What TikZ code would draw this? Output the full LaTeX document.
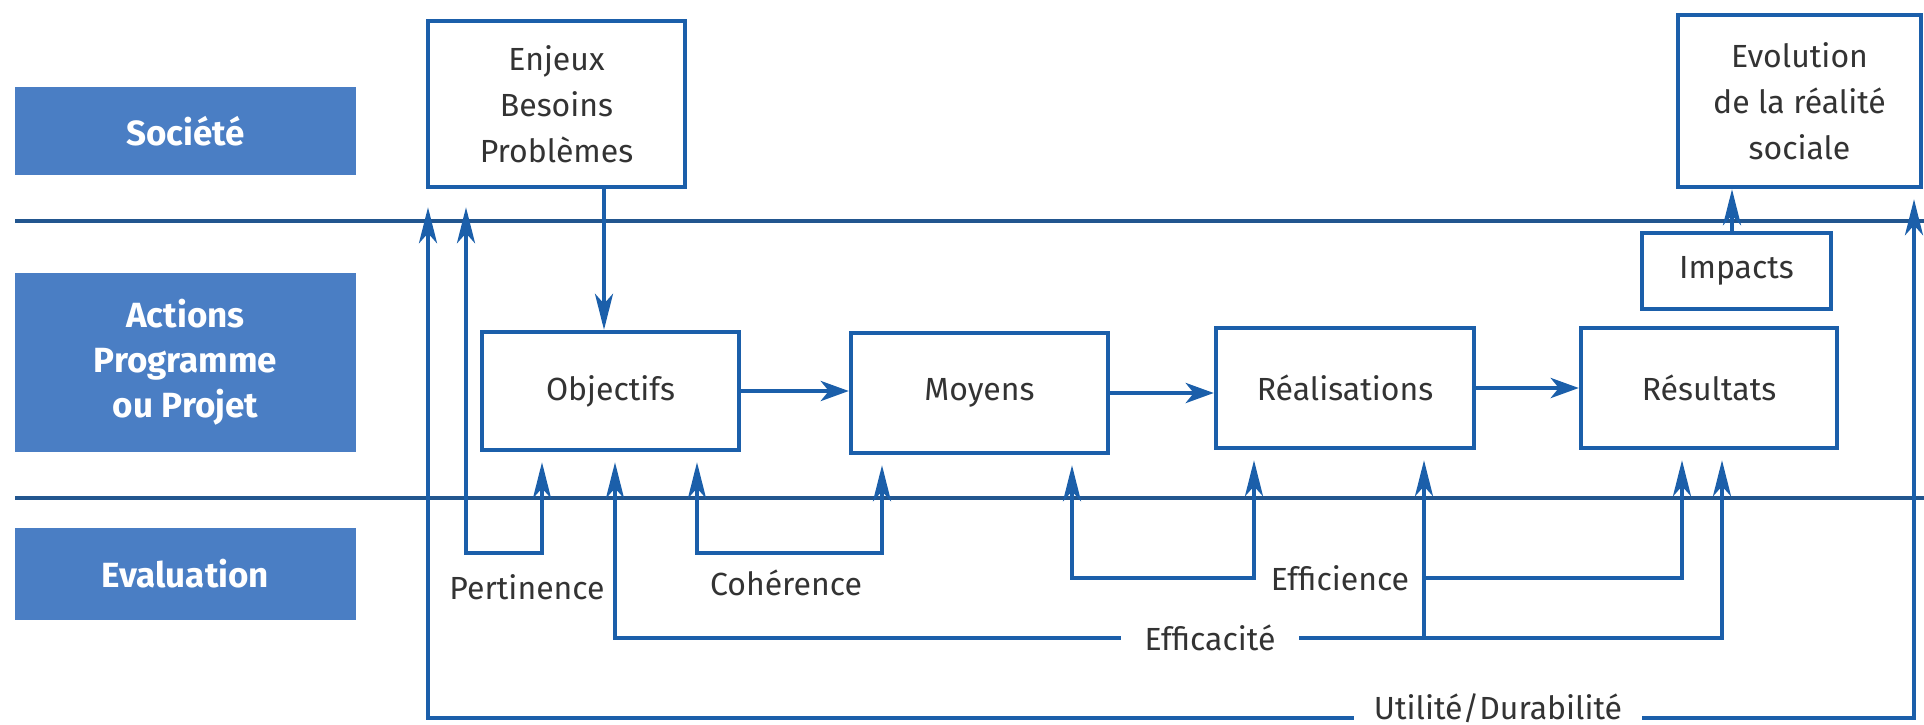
\documentclass[tikz,border=0pt]{standalone}
\usepackage{fontspec}
\setmainfont{Fira Sans}
\usetikzlibrary{arrows.meta}
\definecolor{lblue}{HTML}{4A7EC4}
\definecolor{lineblue}{HTML}{1B5FAA}
\definecolor{sepblue}{HTML}{22568F}
\definecolor{txt}{HTML}{333333}
\begin{document}
\begin{tikzpicture}[x=0.5pt,y=-0.5pt,
  lbl/.style={fill=lblue, text=white, font=\bfseries\fontsize{17.5}{22.5}\selectfont, align=center, inner sep=0pt, minimum width=170.5pt},
  box/.style={draw=lineblue, line width=2.2pt, fill=white, text=txt, font=\fontsize{16}{23}\selectfont, align=center, inner sep=0pt},
  conn/.style={draw=lineblue, line width=2.2pt},
  sep/.style={draw=sepblue, line width=2pt},
  arr/.style={conn, -{Stealth[length=14pt,width=10pt,inset=4pt]}},
  varr/.style={conn, -{Stealth[length=18pt,width=9pt,inset=5pt]}},
  arrtwo/.style={conn, {Stealth[length=18pt,width=9pt,inset=5pt]}-{Stealth[length=18pt,width=9pt,inset=5pt]}},
  ev/.style={text=txt, font=\fontsize{16}{18}\selectfont, inner sep=0pt},
  evw/.style={ev, fill=white, inner ysep=3pt}
]
\useasboundingbox (0,0) rectangle (1924,724);
% separators
\draw[sep] (15,221) -- (1924,221);
\draw[sep] (15,498) -- (1924,498);
% row labels
\node[lbl, minimum height=44pt] (soc) at (185.5,131) {Société};
\node[lbl, minimum height=89.5pt] (act) at (185.5,362.5) {Actions\\Programme\\ou Projet};
\node[lbl, minimum height=46pt] (eva) at (185.5,574) {Evaluation};
% boxes
\node[box, minimum width=128.5pt, minimum height=83pt] (enj) at (556.5,104) {Enjeux\\Besoins\\Problèmes};
\node[box, minimum width=121.5pt, minimum height=86pt] (evo) at (1799.5,101) {Evolution\\de la réalité\\sociale};
\node[box, minimum width=94.5pt, minimum height=38pt] (imp) at (1736.5,271) {Impacts};
\node[box, minimum width=128.5pt, minimum height=59pt] (obj) at (610.5,391) {Objectifs};
\node[box, minimum width=128.5pt, minimum height=60pt] (moy) at (979.5,393) {Moyens};
\node[box, minimum width=129pt, minimum height=60pt] (rea) at (1345,388) {Réalisations};
\node[box, minimum width=128pt, minimum height=60pt] (res) at (1709,388) {Résultats};
% main flow
\draw[varr] (enj.south -| 604,0) -- (obj.north -| 604,0);
\draw[arr] (obj.east) -- (moy.west |- obj.east);
\draw[arr] (moy.east) -- (rea.west |- moy.east);
\draw[arr] (rea.east) -- (res.west |- rea.east);
\draw[varr] (imp.north -| 1732,0) -- (evo.south -| 1732,0);
% Pertinence
\draw[arrtwo, shorten <=9pt, shorten >=5pt] (enj.south -| 466,0) -- (466,553) -- (542,553) -- (obj.south -| 542,0);
\node[ev] (pert) at (527,587) {Pertinence};
% Cohérence
\draw[arrtwo, shorten <=5pt, shorten >=5pt] (obj.south -| 697,0) -- (697,553) -- (882,553) -- (moy.south -| 882,0);
\node[ev] (coh) at (786,583) {Cohérence};
% Efficience
\draw[arrtwo, shorten <=5pt, shorten >=5pt] (moy.south -| 1072,0) -- (1072,578) -- (1254,578) -- (rea.south -| 1254,0);
\coordinate (effstart) at (1424,578);
\draw[varr, shorten >=5pt] (effstart) -- (1682,578) -- (res.south -| 1682,0);
\node[ev] (effi) at (1340,578) {Efficience};
% Efficacité
\draw[arrtwo, shorten <=5pt, shorten >=5pt] (obj.south -| 615,0) -- (615,638) -- (1722,638) -- (res.south -| 1722,0);
\draw[varr, shorten >=5pt] (1424,638) -- (rea.south -| 1424,0);
\node[evw, inner xsep=12pt] (effa) at (1210,638) {Efficacité};
% Utilité / Durabilité
\draw[arrtwo, shorten <=9pt, shorten >=5pt] (enj.south -| 428,0) -- (428,718) -- (1914,718) -- (evo.south -| 1914,0);
\node[evw, inner xsep=10pt] (util) at (1498,708) {Utilité/Durabilité};
\end{tikzpicture}
\end{document}
